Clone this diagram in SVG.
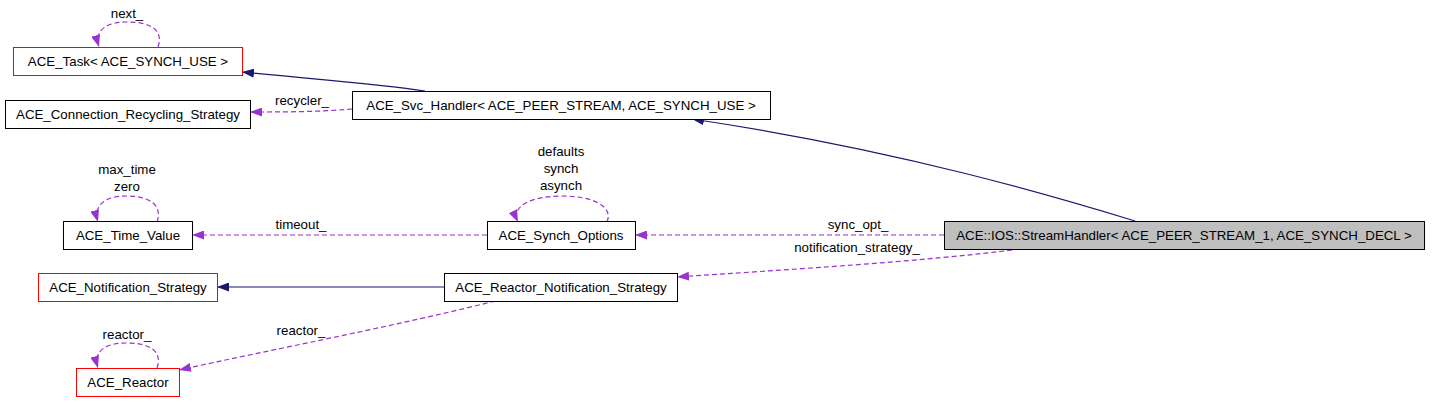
<svg xmlns="http://www.w3.org/2000/svg" width="1432" height="403" viewBox="0 0 1432 403">
<style>
text{font-family:"Liberation Sans",Arial,sans-serif;font-size:13.3px;fill:#000}
.n{text-anchor:middle}
.l{text-anchor:middle}
.box{fill:#fff;stroke:#000;stroke-width:1}
.red{fill:#fff;stroke:#ff0000;stroke-width:1}
.cur{fill:#bfbfbf;stroke:#000;stroke-width:1}
.inh{fill:none;stroke:#191970;stroke-width:1.2}
.use{fill:none;stroke:#9a32cd;stroke-width:1.2;stroke-dasharray:5,3}
</style>
<defs>
<marker id="an" viewBox="0 0 12 9" refX="12" refY="4.5" markerWidth="12" markerHeight="9" orient="auto" markerUnits="userSpaceOnUse"><path d="M0,0 L12,4.5 L0,9 z" fill="#191970"/></marker>
<marker id="ap" viewBox="0 0 12 9" refX="12" refY="4.5" markerWidth="12" markerHeight="9" orient="auto" markerUnits="userSpaceOnUse"><path d="M0,0 L12,4.5 L0,9 z" fill="#9a32cd"/></marker>
</defs>
<rect width="1432" height="403" fill="#fff"/>
<g id="connectors">
<path class="inh" d="M1135,221 C1060,198 900,150 692,119" marker-end="url(#an)"/>
<path class="inh" d="M425,91 C380,84 300,78 242,72" marker-end="url(#an)"/>
<path class="inh" d="M444,287 L217,287" marker-end="url(#an)"/>
<path class="use" d="M352,109 C320,112 280,112 250,112" marker-end="url(#ap)"/>
<path class="use" d="M158,47 C164,30 150,22 128,22 C106,22 94,30 99,47" marker-end="url(#ap)"/>
<path class="use" d="M157,222 C163,205 149,196 127,196 C105,196 93,205 98,222" marker-end="url(#ap)"/>
<path class="use" d="M607,222 C614,205 590,196 562,196 C534,196 510,205 518,222" marker-end="url(#ap)"/>
<path class="use" d="M157,368 C163,351 149,343 127,343 C105,343 93,351 98,368" marker-end="url(#ap)"/>
<path class="use" d="M487,235 L192,235" marker-end="url(#ap)"/>
<path class="use" d="M944,235 L635,235" marker-end="url(#ap)"/>
<path class="use" d="M1020,249 C920,262 780,270 677,277" marker-end="url(#ap)"/>
<path class="use" d="M495,301 C400,325 270,350 179,370" marker-end="url(#ap)"/>
<text class="l" x="127" y="18">next_</text>
<text class="l" x="302" y="105">recycler_</text>
<text class="l" x="127" y="174">max_time</text>
<text class="l" x="127" y="191">zero</text>
<text class="l" x="561" y="156">defaults</text>
<text class="l" x="561" y="173">synch</text>
<text class="l" x="561" y="190">asynch</text>
<text class="l" x="301" y="229">timeout_</text>
<text class="l" x="858" y="229">sync_opt_</text>
<text class="l" x="857" y="252">notification_strategy_</text>
<text class="l" x="301" y="335">reactor_</text>
<text class="l" x="127" y="339">reactor_</text>
</g>
<g id="node_task"><rect class="red" x="13.5" y="47.5" width="229" height="28"/><text class="n" x="128" y="66">ACE_Task&lt; ACE_SYNCH_USE &gt;</text></g>
<g id="node_recycling"><rect class="box" x="5.5" y="100.5" width="245" height="28"/><text class="n" x="128" y="119">ACE_Connection_Recycling_Strategy</text></g>
<g id="node_svc"><rect class="box" x="352.5" y="91.5" width="418" height="28"/><text class="n" x="561" y="110">ACE_Svc_Handler&lt; ACE_PEER_STREAM, ACE_SYNCH_USE &gt;</text></g>
<g id="node_time"><rect class="box" x="63.5" y="221.5" width="129" height="28"/><text class="n" x="128" y="240">ACE_Time_Value</text></g>
<g id="node_synch"><rect class="box" x="487.5" y="221.5" width="148" height="28"/><text class="n" x="561" y="240">ACE_Synch_Options</text></g>
<g id="node_stream"><rect class="cur" x="944.5" y="221.5" width="480" height="28"/><text class="n" x="1184" y="240">ACE::IOS::StreamHandler&lt; ACE_PEER_STREAM_1, ACE_SYNCH_DECL &gt;</text></g>
<g id="node_notif"><rect class="red" x="38.5" y="273.5" width="179" height="28"/><text class="n" x="128" y="292">ACE_Notification_Strategy</text></g>
<g id="node_rns"><rect class="box" x="444.5" y="273.5" width="233" height="28"/><text class="n" x="561" y="292">ACE_Reactor_Notification_Strategy</text></g>
<g id="node_reactor"><rect class="red" x="76.5" y="368.5" width="103" height="28"/><text class="n" x="128" y="387">ACE_Reactor</text></g>
</svg>
